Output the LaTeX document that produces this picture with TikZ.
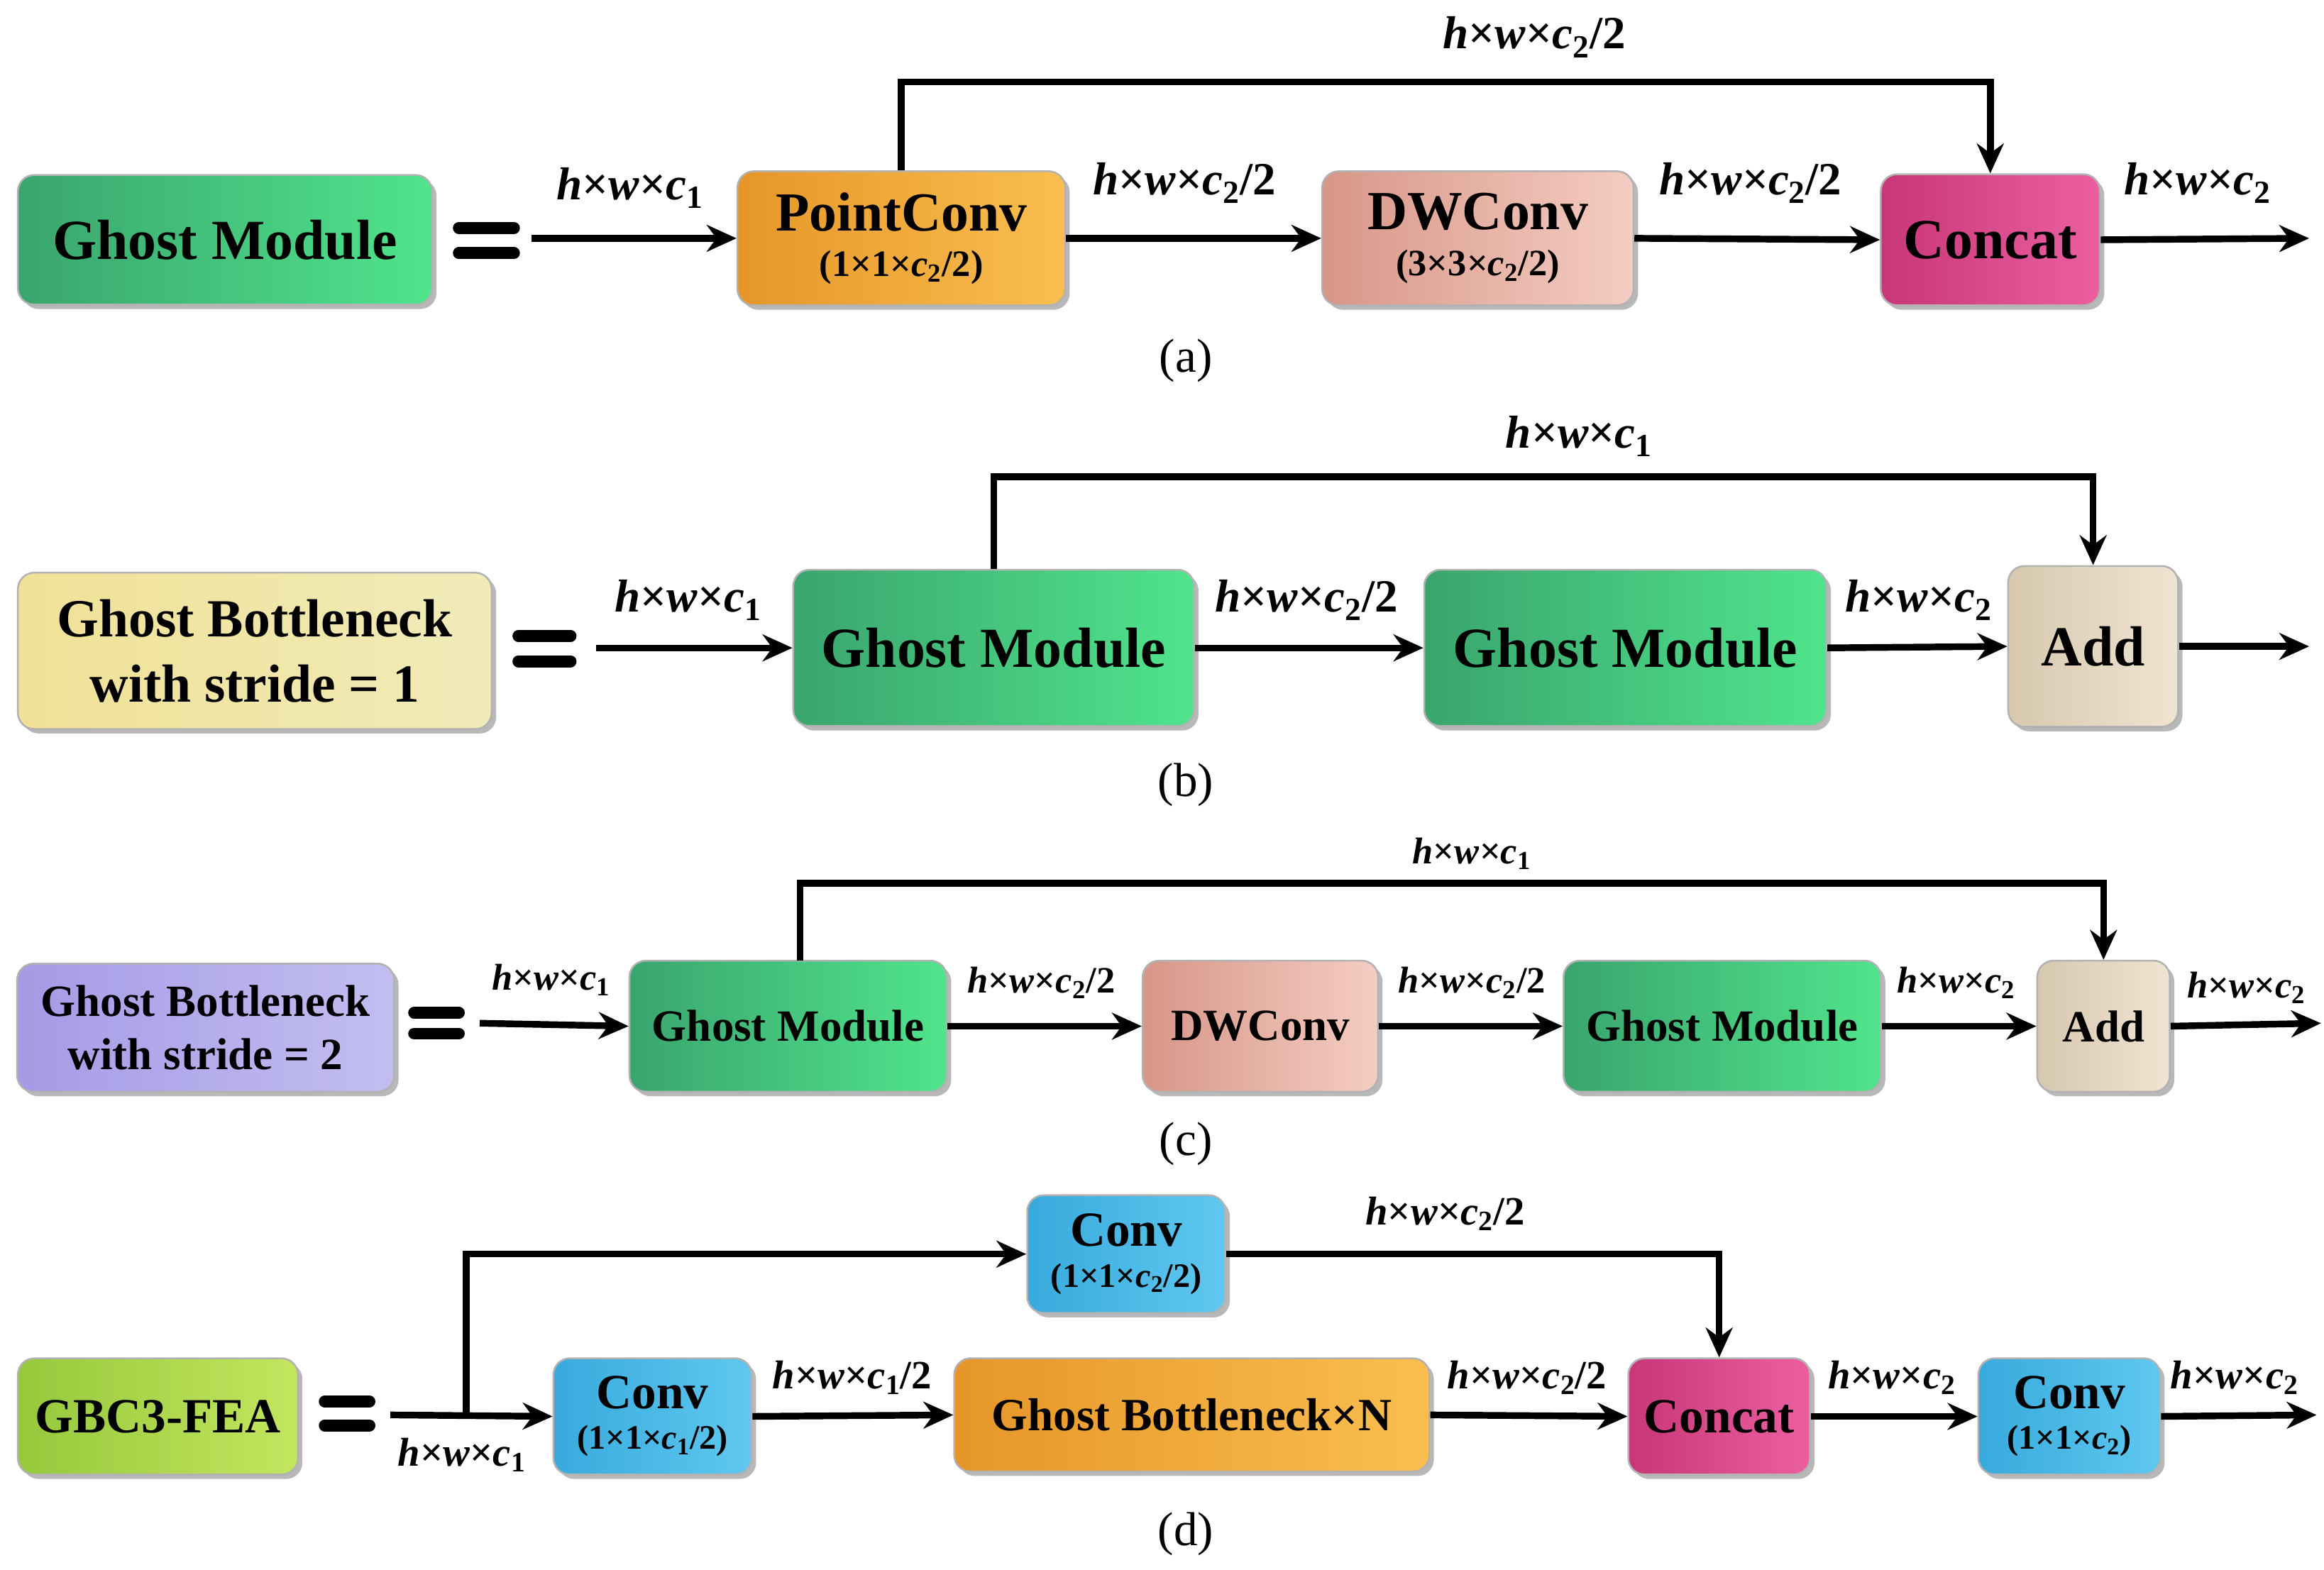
\documentclass[tikz,border=0pt]{standalone}
\usepackage{fontspec}
\setmainfont{Liberation Serif}
\usetikzlibrary{shadows,arrows.meta}
\newcommand{\dl}[2]{\textit{h}×\textit{w}×\textit{c}\textsubscript{#1}#2}
\begin{document}
\begin{tikzpicture}[x=1pt,y=-1pt,
 box/.style={rounded corners=11pt,draw=gray!60,line width=1.2pt,inner sep=0pt,align=center,
   font=\bfseries,drop shadow={shadow xshift=3pt,shadow yshift=-3pt,fill=gray!70,opacity=.8}},
 arr/.style={line width=4.5pt,-{Stealth[length=20pt,width=18pt]}},
 eq/.style={line width=8pt,line cap=round},
 lab/.style={font=\bfseries},
 capt/.style={font=\fontsize{32}{32}\selectfont}]
\definecolor{gA}{RGB}{58,165,110}\definecolor{gB}{RGB}{80,228,140}
\definecolor{oA}{RGB}{230,150,40}\definecolor{oB}{RGB}{250,190,80}
\definecolor{pA}{RGB}{215,150,135}\definecolor{pB}{RGB}{245,205,195}
\definecolor{mA}{RGB}{200,55,120}\definecolor{mB}{RGB}{235,95,160}
\definecolor{yA}{RGB}{240,225,150}\definecolor{yB}{RGB}{240,235,185}
\definecolor{lA}{RGB}{165,155,230}\definecolor{lB}{RGB}{195,190,240}
\definecolor{aA}{RGB}{215,200,175}\definecolor{aB}{RGB}{240,228,210}
\definecolor{bA}{RGB}{55,170,220}\definecolor{bB}{RGB}{95,200,240}
\definecolor{lgA}{RGB}{150,200,60}\definecolor{lgB}{RGB}{195,230,95}
\tikzset{G/.style={left color=gA,right color=gB},O/.style={left color=oA,right color=oB},
 P/.style={left color=pA,right color=pB},M/.style={left color=mA,right color=mB},
 Y/.style={left color=yA,right color=yB},L/.style={left color=lA,right color=lB},
 A/.style={left color=aA,right color=aB},B/.style={left color=bA,right color=bB},
 LG/.style={left color=lgA,right color=lgB}}
\useasboundingbox (0,0) rectangle (1560,1054);
% (a)
\node[box,G,minimum width=278,minimum height=87,font=\bfseries\fontsize{38}{38}\selectfont] (gma) at (151,161) {Ghost Module};
\draw[eq] (308,153) -- (345,153) (308,170) -- (345,170);
\node[box,O,minimum width=220,minimum height=90] (pc) at (605,160) {{\fontsize{37}{37}\selectfont PointConv}\\[12pt]{\fontsize{25}{25}\selectfont (1×1×\textit{c}\textsubscript{2}/2)}};
\node[box,P,minimum width=209,minimum height=90] (dwa) at (992,160) {{\fontsize{37}{37}\selectfont DWConv}\\[12pt]{\fontsize{25}{25}\selectfont (3×3×\textit{c}\textsubscript{2}/2)}};
\node[box,M,minimum width=147,minimum height=88,font=\bfseries\fontsize{38}{38}\selectfont] (cata) at (1336,161) {Concat};
\coordinate (ia) at (357,160);\coordinate (oa) at (1550,160);
\draw[arr] (ia) -- (pc.west);
\draw[arr] (pc.east) -- (dwa.west);
\draw[arr] (dwa.east) -- (cata.west);
\draw[arr] (cata.east) -- (oa);
\draw[arr] (pc.north) -- (pc.north |- 0,55) -| (cata.north);
\node[lab,font=\bfseries\fontsize{31}{31}\selectfont] (la1) at (423,126) {\dl{1}{}};
\node[lab,font=\bfseries\fontsize{31}{31}\selectfont] (la2) at (795,123) {\dl{2}{/2}};
\node[lab,font=\bfseries\fontsize{31}{31}\selectfont] (la3) at (1175,123) {\dl{2}{/2}};
\node[lab,font=\bfseries\fontsize{31}{31}\selectfont] (la4) at (1475,123) {\dl{2}{}};
\node[lab,font=\bfseries\fontsize{31}{31}\selectfont] (la5) at (1030,25) {\dl{2}{/2}};
\node[capt] (ca) at (796,242) {(a)};
% (b)
\node[box,Y,minimum width=318,minimum height=105,font=\bfseries\fontsize{36}{44}\selectfont] (gb1) at (171,437) {Ghost Bottleneck\\with stride = 1};
\draw[eq] (348,427) -- (383,427) (348,444) -- (383,444);
\node[box,G,minimum width=269,minimum height=105,font=\bfseries\fontsize{38}{38}\selectfont] (gmb1) at (667,435) {Ghost Module};
\node[box,G,minimum width=270,minimum height=105,font=\bfseries\fontsize{38}{38}\selectfont] (gmb2) at (1091,435) {Ghost Module};
\node[box,A,minimum width=114,minimum height=108,font=\bfseries\fontsize{38}{38}\selectfont] (addb) at (1405,434) {Add};
\coordinate (ib) at (400,435);\coordinate (ob) at (1550,434);
\draw[arr] (ib) -- (gmb1.west);
\draw[arr] (gmb1.east) -- (gmb2.west);
\draw[arr] (gmb2.east) -- (addb.west);
\draw[arr] (addb.east) -- (ob);
\draw[arr] (gmb1.north) -- (gmb1.north |- 0,320) -| (addb.north);
\node[lab,font=\bfseries\fontsize{31}{31}\selectfont] (lb1) at (462,403) {\dl{1}{}};
\node[lab,font=\bfseries\fontsize{31}{31}\selectfont] (lb2) at (877,403) {\dl{2}{/2}};
\node[lab,font=\bfseries\fontsize{31}{31}\selectfont] (lb3) at (1288,403) {\dl{2}{}};
\node[lab,font=\bfseries\fontsize{31}{31}\selectfont] (lb4) at (1060,293) {\dl{1}{}};
\node[capt] (cb) at (796,527) {(b)};
% (c)
\node[box,L,minimum width=253,minimum height=86,font=\bfseries\fontsize{30}{36}\selectfont] (gb2) at (138,690) {Ghost Bottleneck\\with stride = 2};
\draw[eq] (278,680) -- (308,680) (278,694) -- (308,694);
\node[box,G,minimum width=213,minimum height=88,font=\bfseries\fontsize{30}{30}\selectfont] (gmc1) at (529,689) {Ghost Module};
\node[box,P,minimum width=158,minimum height=88,font=\bfseries\fontsize{30}{30}\selectfont] (dwc) at (846,689) {DWConv};
\node[box,G,minimum width=213,minimum height=88,font=\bfseries\fontsize{30}{30}\selectfont] (gmc2) at (1156,689) {Ghost Module};
\node[box,A,minimum width=89,minimum height=88,font=\bfseries\fontsize{30}{30}\selectfont] (addc) at (1412,689) {Add};
\coordinate (ic) at (322,687);\coordinate (oc) at (1558,687);\coordinate (sc) at (537,645);
\draw[arr] (ic) -- (gmc1.west);
\draw[arr] (gmc1.east) -- (dwc.west);
\draw[arr] (dwc.east) -- (gmc2.west);
\draw[arr] (gmc2.east) -- (addc.west);
\draw[arr] (addc.east) -- (oc);
\draw[arr] (sc) -- (sc |- 0,593) -| (addc.north);
\node[lab,font=\bfseries\fontsize{25}{25}\selectfont] (lc1) at (370,658) {\dl{1}{}};
\node[lab,font=\bfseries\fontsize{25}{25}\selectfont] (lc2) at (699,660) {\dl{2}{/2}};
\node[lab,font=\bfseries\fontsize{25}{25}\selectfont] (lc3) at (988,660) {\dl{2}{/2}};
\node[lab,font=\bfseries\fontsize{25}{25}\selectfont] (lc4) at (1313,660) {\dl{2}{}};
\node[lab,font=\bfseries\fontsize{25}{25}\selectfont] (lc5) at (1508,663) {\dl{2}{}};
\node[lab,font=\bfseries\fontsize{25}{25}\selectfont] (lc6) at (988,573) {\dl{1}{}};
\node[capt] (cc) at (796,768) {(c)};
% (d)
\node[box,LG,minimum width=188,minimum height=78,font=\bfseries\fontsize{33}{33}\selectfont] (gbc) at (106,951) {GBC3-FEA};
\draw[eq] (218,941) -- (248,941) (218,957) -- (248,957);
\node[box,B,minimum width=133,minimum height=78] (cv1) at (438,951) {{\fontsize{33}{33}\selectfont Conv}\\[10pt]{\fontsize{23}{23}\selectfont (1×1×\textit{c}\textsubscript{1}/2)}};
\node[box,O,minimum width=319,minimum height=76,font=\bfseries\fontsize{31}{31}\selectfont] (gbn) at (800,950) {Ghost Bottleneck×N};
\node[box,M,minimum width=122,minimum height=78,font=\bfseries\fontsize{33}{33}\selectfont] (catd) at (1154,951) {Concat};
\node[box,B,minimum width=122,minimum height=78] (cv2) at (1389,951) {{\fontsize{33}{33}\selectfont Conv}\\[10pt]{\fontsize{23}{23}\selectfont (1×1×\textit{c}\textsubscript{2})}};
\node[box,B,minimum width=133,minimum height=79] (cv3) at (756,842) {{\fontsize{33}{33}\selectfont Conv}\\[10pt]{\fontsize{23}{23}\selectfont (1×1×\textit{c}\textsubscript{2}/2)}};
\coordinate (id) at (262,950);\coordinate (br) at (313,950);\coordinate (od) at (1555,950);
\draw[arr] (id) -- (cv1.west);
\draw[arr] (cv1.east) -- (gbn.west);
\draw[arr] (gbn.east) -- (catd.west);
\draw[arr] (catd.east) -- (cv2.west);
\draw[arr] (cv2.east) -- (od);
\draw[arr] (br) |- (cv3.west);
\draw[arr] (cv3.east) -| (catd.north);
\node[lab,font=\bfseries\fontsize{27}{27}\selectfont] (ld1) at (310,977) {\dl{1}{}};
\node[lab,font=\bfseries\fontsize{27}{27}\selectfont] (ld2) at (572,925) {\dl{1}{/2}};
\node[lab,font=\bfseries\fontsize{27}{27}\selectfont] (ld3) at (1025,925) {\dl{2}{/2}};
\node[lab,font=\bfseries\fontsize{27}{27}\selectfont] (ld4) at (1270,925) {\dl{2}{}};
\node[lab,font=\bfseries\fontsize{27}{27}\selectfont] (ld5) at (1500,925) {\dl{2}{}};
\node[lab,font=\bfseries\fontsize{27}{27}\selectfont] (ld6) at (970,815) {\dl{2}{/2}};
\node[capt] (cd) at (796,1030) {(d)};
\end{tikzpicture}
\end{document}
